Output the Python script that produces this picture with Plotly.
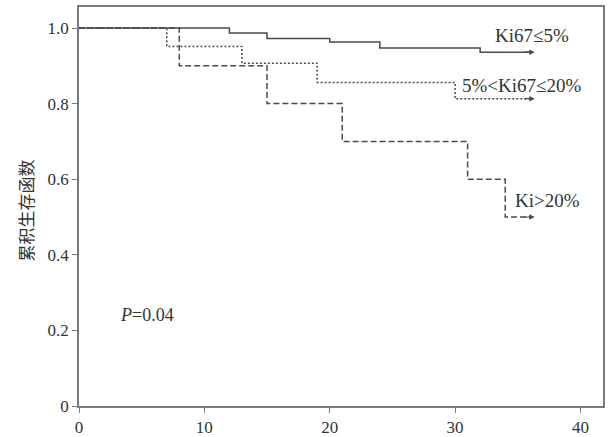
import plotly.graph_objects as go

# Kaplan-Meier step data (time in months, cumulative survival)
low_t = [0, 12, 15, 20, 24, 32, 36]
low_s = [1.0, 0.987, 0.972, 0.963, 0.947, 0.936, 0.936]

mid_t = [0, 7, 13, 19, 30, 36]
mid_s = [1.0, 0.951, 0.907, 0.856, 0.813, 0.813]

high_t = [0, 8, 15, 21, 31, 34, 36]
high_s = [1.0, 0.90, 0.80, 0.70, 0.60, 0.50, 0.50]

group_labels = ["Ki67≤5%", "5%<Ki67≤20%", "Ki>20%"]
label_pos_x = [33.0, 30.4, 34.6]
label_pos_y = [0.980, 0.847, 0.545]

x_ticks = [0, 10, 20, 30, 40]
y_ticks = [0, 0.2, 0.4, 0.6, 0.8, 1.0]
y_tick_text = ["0", "0.2", "0.4", "0.6", "0.8", "1.0"]

p_text = "<i>P</i>=0.04"
y_title = "累积生存函数"

line_color = "#4a4a4a"
axis_color = "#7a7a7a"
text_color = "#333333"
serif = "Liberation Serif, Times New Roman, serif"

fig = go.Figure()
series = [(low_t, low_s, "solid"), (mid_t, mid_s, "2px,2px"), (high_t, high_s, "6px,3px")]
for (t, s, dash), name in zip(series, group_labels):
    fig.add_trace(go.Scatter(
        x=t, y=s, mode="lines", line=dict(shape="hv", color=line_color, width=1.5, dash=dash),
        name=name, showlegend=False, hoverinfo="skip"))

# end arrows
for t, s, _ in series:
    fig.add_annotation(x=t[-1] + 0.35, y=s[-1], ax=t[-1] - 0.6, ay=s[-1],
                       xref="x", yref="y", axref="x", ayref="y",
                       showarrow=True, arrowhead=2, arrowsize=0.9, arrowwidth=1.2,
                       arrowcolor=line_color, text="")

for lab, lx, ly in zip(group_labels, label_pos_x, label_pos_y):
    fig.add_annotation(x=lx, y=ly, text=lab, showarrow=False, xanchor="left", yanchor="middle",
                       font=dict(family=serif, size=19, color=text_color))

fig.add_annotation(x=3.1, y=0.241, text=p_text, showarrow=False, xanchor="left", yanchor="middle",
                   font=dict(family=serif, size=18, color=text_color))

# y-axis title placed in paper coordinates
fig.add_annotation(x=-0.103, y=0.49, xref="paper", yref="paper", text=y_title, textangle=-90,
                   showarrow=False, xanchor="center", yanchor="middle",
                   font=dict(family="Noto Sans CJK SC", size=17, color=text_color))

fig.update_layout(
    width=608, height=437,
    margin=dict(l=79, r=5, t=7, b=31, autoexpand=False),
    plot_bgcolor="white", paper_bgcolor="white",
    font=dict(family=serif, size=17, color=text_color),
)
fig.update_xaxes(range=[0, 41.8], tickvals=x_ticks, ticks="outside", ticklen=5, tickwidth=1.2,
                 tickcolor=axis_color, showline=True, linecolor=axis_color, linewidth=1.5,
                 mirror=True, showgrid=False, zeroline=False, automargin=False,
                 tickfont=dict(family=serif, size=17, color=text_color))
fig.update_yaxes(range=[0, 1.0556], tickvals=y_ticks, ticktext=y_tick_text, ticks="outside",
                 ticklen=5, tickwidth=1.2, tickcolor=axis_color, showline=True,
                 linecolor=axis_color, linewidth=1.5, mirror=True, showgrid=False, zeroline=False,
                 automargin=False,
                 tickfont=dict(family=serif, size=17, color=text_color))

fig.write_html("out.html", config={"displayModeBar": False},
               post_script="document.body.style.margin='0';document.body.style.overflow='hidden';")
